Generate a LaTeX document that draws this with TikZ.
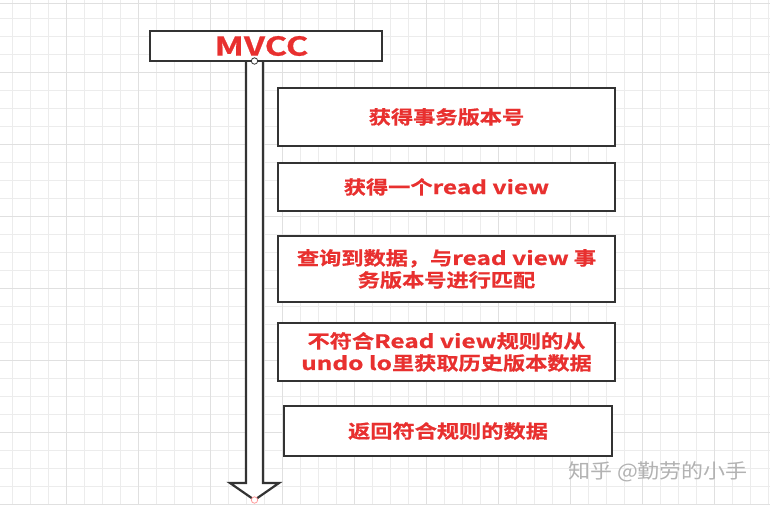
\documentclass[tikz,border=0pt]{standalone}
\usepackage{fontspec}
\newfontfamily\cjkb{Noto Sans CJK SC Bold}[FakeStretch=1.2,FakeBold=0.8]
\newfontfamily\lat{Noto Sans CJK SC Bold}[FakeStretch=1.32,FakeBold=0.8]
\newfontfamily\cjkw{Noto Sans CJK SC}[FakeStretch=1.1]
\definecolor{txtred}{HTML}{E8302F}
\definecolor{boxline}{HTML}{333333}
\definecolor{gridc}{HTML}{ECECEC}
\definecolor{gridm}{HTML}{E0E0E0}
\begin{document}
\begin{tikzpicture}[x=1pt,y=-1pt,
  stepbox/.style={draw=boxline,line width=1.8pt,fill=white,inner sep=0pt,
    text=txtred,font=\cjkb\fontsize{18.5}{22}\selectfont,align=center}]
\useasboundingbox (0,0) rectangle (770,504);
\fill[white] (0,0) rectangle (770,504);
% grid
\foreach \i in {0,...,42} {\draw[gridc,line width=0.6pt] (12+18*\i,0) -- (12+18*\i,504);}
\foreach \i in {0,...,27} {\draw[gridc,line width=0.6pt] (0,18+18*\i) -- (770,18+18*\i);}
\foreach \i in {0,...,10} {\draw[gridm,line width=0.8pt] (66+72*\i,0) -- (66+72*\i,504);}
\foreach \i in {0,...,6} {\draw[gridm,line width=0.8pt] (0,72+72*\i) -- (770,72+72*\i);}
\draw[gridm,line width=1pt] (0,3) -- (770,3);
% arrow
\coordinate (top) at (254.5,61);
\coordinate (tip) at (254.5,500);
\draw[boxline,line width=2.2pt,fill=white,line join=miter]
  (246,61) -- (246,483) -- (230,483) -- (tip) -- (279,483) -- (263,483) -- (263,61);
% title
\node[stepbox,minimum width=232pt,minimum height=30pt,font=\lat\fontsize{26}{28}\selectfont] (mvcc) at (266,46) {MVCC\hspace*{9pt}};
\draw[boxline,line width=0.8pt,fill=white] (top) circle (3.2pt);
\draw[red!40,line width=0.8pt,fill=white] (tip) circle (3.2pt);
% steps
\node[stepbox,minimum width=337pt,minimum height=58pt] (s1) at (446.5,117) {获得事务版本号};
\node[stepbox,minimum width=337pt,minimum height=48pt] (s2) at (446.5,187) {获得一个{\lat read view}};
\node[stepbox,minimum width=337pt,minimum height=66pt] (s3) at (446.5,269) {查询到数据，与{\lat read view} 事\\务版本号进行匹配};
\node[stepbox,minimum width=337pt,minimum height=58pt] (s4) at (446.5,352) {不符合{\lat Read view}规则的从\\{\lat undo lo}里获取历史版本数据};
\node[stepbox,minimum width=328pt,minimum height=50pt] (s5) at (448,431) {返回符合规则的数据};
% watermark
\node[text=black!30,font=\cjkw\fontsize{20}{22}\selectfont] (wm) at (658,472) {知乎 @勤劳的小手};
\end{tikzpicture}
\end{document}
